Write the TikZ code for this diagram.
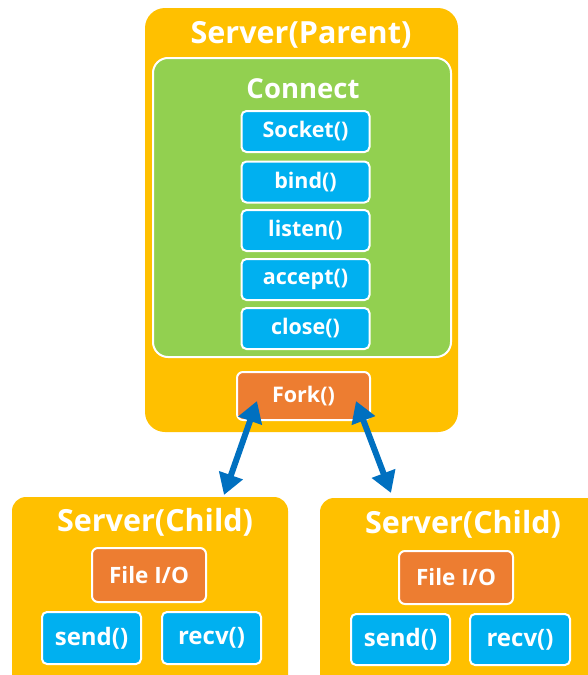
\documentclass[tikz,border=0pt]{standalone}
\usepackage{fontspec}
\setmainfont{Open Sans}
\usetikzlibrary{arrows.meta}
\definecolor{gold}{HTML}{FFC000}
\definecolor{leaf}{HTML}{92D050}
\definecolor{sky}{HTML}{00B0F0}
\definecolor{rust}{HTML}{ED7D31}
\definecolor{navy}{HTML}{0070C0}
\tikzset{
  panel/.style={fill=gold, draw=none, rounded corners=20pt, inner sep=0pt},
  greenpanel/.style={fill=leaf, draw=white, line width=2pt, rounded corners=15pt, inner sep=0pt},
  fnbox/.style={fill=sky, draw=white, line width=2pt, rounded corners=5pt, inner sep=0pt,
    text=white, font=\bfseries\fontsize{21.5}{21.5}\selectfont},
  orbox/.style={fill=rust, draw=white, line width=2pt, rounded corners=6pt, inner sep=0pt,
    text=white, font=\bfseries\fontsize{21.5}{21.5}\selectfont},
  bigtitle/.style={text=white, font=\bfseries\fontsize{30.5}{30.5}\selectfont, inner sep=0pt},
  childfn/.style={fnbox, font=\bfseries\fontsize{24}{24}\selectfont},
  childor/.style={orbox, font=\bfseries\fontsize{22.5}{22.5}\selectfont},
  dblarrow/.style={draw=navy, line width=6pt, {Triangle[length=21pt,width=24pt]}-{Triangle[length=21pt,width=24pt]}}
}
\begin{document}
\begin{tikzpicture}[x=1pt,y=-1pt]
\useasboundingbox (0,0) rectangle (587,675);
% parent
\node[panel, minimum width=313pt, minimum height=424pt] (parent) at (301.5,220) {};
\node[bigtitle] (ptitle) at (301,35) {Server(Parent)};
\node[greenpanel, minimum width=298pt, minimum height=299pt] (connect) at (302,207.5) {};
\node[bigtitle, font=\bfseries\fontsize{27.5}{27.5}\selectfont] (ctitle) at (303,89) {Connect};
\node[fnbox, minimum width=128pt, minimum height=41pt] (socket) at (305.5,131.5) {Socket()};
\node[fnbox, minimum width=128pt, minimum height=41pt] (bind) at (305.5,182) {bind()};
\node[fnbox, minimum width=128pt, minimum height=41pt] (listen) at (305.5,230.5) {listen()};
\node[fnbox, minimum width=128pt, minimum height=41pt] (accept) at (305.5,279.5) {accept()};
\node[fnbox, minimum width=128pt, minimum height=41pt] (close) at (305.5,328.5) {close()};
\node[orbox, minimum width=133pt, minimum height=48pt] (fork) at (303.5,396) {Fork()};
% left child
\node[panel, rounded corners=14pt, minimum width=276pt, minimum height=200pt] (lchild) at (150,597) {};
\node[bigtitle] (ltitle) at (155,522) {Server(Child)};
\node[childor, minimum width=114pt, minimum height=54pt] (lfile) at (149,575) {File I/O};
\node[childfn, minimum width=99pt, minimum height=52pt] (lsend) at (91.5,638) {send()};
\node[childfn, minimum width=99pt, minimum height=52pt] (lrecv) at (211.5,638) {recv()};
% right child
\node[panel, rounded corners=14pt, minimum width=290pt, minimum height=200pt] (rchild) at (465,598) {};
\node[bigtitle] (rtitle) at (463,524) {Server(Child)};
\node[childor, minimum width=114pt, minimum height=53pt] (rfile) at (456,577.5) {File I/O};
\node[childfn, minimum width=99pt, minimum height=51pt] (rsend) at (400.5,639.5) {send()};
\node[childfn, minimum width=100pt, minimum height=51pt] (rrecv) at (520,639.5) {recv()};
% arrows
\coordinate (la) at (257,401);
\coordinate (lb) at (224,495);
\coordinate (ra) at (356,401);
\coordinate (rb) at (391,493);
\draw[dblarrow] (la) -- (lb);
\draw[dblarrow] (ra) -- (rb);
\end{tikzpicture}
\end{document}
